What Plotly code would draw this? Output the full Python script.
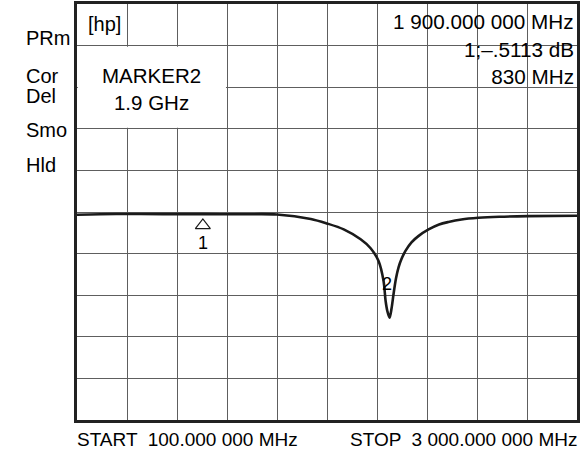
import plotly.graph_objects as go

# Trace data (frequency in MHz, magnitude in dB, 10 dB/div, ref 0 dB)
freq_mhz = [100, 328, 600, 830, 1050, 1259, 1456, 1549, 1647, 1745, 1803, 1849, 1878,
            1890, 1900, 1913, 1925, 1936, 1950, 1965, 1982, 2006, 2040, 2080, 2139,
            2200, 2254, 2330, 2428, 2550, 2717, 3000]
mag_db = [-0.67, -0.48, -0.50, -0.51, -0.55, -0.60, -1.67, -2.74, -4.18, -6.56, -8.71,
          -11.8, -16.6, -21.4, -23.8, -25.4, -23.0, -19.7, -16.0, -13.3, -11.3, -9.3,
          -7.3, -5.8, -4.2, -3.0, -2.4, -1.8, -1.4, -1.15, -1.0, -0.90]

start_mhz = 100
stop_mhz = 3000
ref_db = 0
db_per_div = 10

marker1_freq = 830
marker1_val = -0.5113
marker2_freq = 1900
marker2_label_db = -17.4

left_labels = ["PRm", "Cor", "Del", "Smo", "Hld"]
left_label_y = [0.919, 0.828, 0.778, 0.697, 0.613]

FONT = "Liberation Sans, Arial, Helvetica, sans-serif"
ink = "#1a1a1a"

fig = go.Figure()

fig.add_trace(go.Scatter(
    x=freq_mhz, y=mag_db, mode="lines",
    line=dict(color=ink, width=2.6, shape="spline", smoothing=0.9),
    hoverinfo="skip", showlegend=False))

# marker 1 triangle (below trace)
fig.add_trace(go.Scatter(
    x=[marker1_freq], y=[marker1_val - 2.7], mode="markers",
    marker=dict(symbol="triangle-up-open", size=13, color=ink, line=dict(width=1.2)),
    hoverinfo="skip", showlegend=False))

# reference-level arrow at left edge
fig.add_trace(go.Scatter(
    x=[start_mhz - 84], y=[ref_db], mode="markers", cliponaxis=False,
    marker=dict(symbol="triangle-right-open", size=15, color=ink, line=dict(width=1.2)),
    hoverinfo="skip", showlegend=False))

span = stop_mhz - start_mhz
fig.update_xaxes(range=[start_mhz, stop_mhz], tick0=start_mhz, dtick=span / 10,
                 showgrid=True, gridcolor="#5e5e5e", gridwidth=1.4,
                 showticklabels=False, ticks="", zeroline=False,
                 showline=True, mirror=True, linecolor="#222", linewidth=2.6)
fig.update_yaxes(range=[ref_db - 5 * db_per_div, ref_db + 5 * db_per_div],
                 tick0=ref_db, dtick=db_per_div,
                 showgrid=True, gridcolor="#5e5e5e", gridwidth=1.4,
                 showticklabels=False, ticks="", zeroline=False,
                 showline=True, mirror=True, linecolor="#222", linewidth=2.6)

# white box behind MARKER2 text (covers gridlines)
fig.add_shape(type="rect", xref="x", yref="y", layer="between",
              x0=start_mhz + 5, x1=start_mhz + 3 * span / 10 - 6,
              y0=ref_db + 2 * db_per_div + 0.25, y1=ref_db + 4 * db_per_div - 0.25,
              fillcolor="white", line=dict(width=0))

ann = []
def txt(s, x, y, size=20, xa="left", ya="middle", align="left"):
    ann.append(dict(text=s, x=x, y=y, xref="paper", yref="paper", showarrow=False,
                    xanchor=xa, yanchor=ya, align=align, borderpad=0,
                    font=dict(family=FONT, size=size, color="black")))

for s, y in zip(left_labels, left_label_y):
    txt(s, -0.1047, y)
txt("[hp]", 0.019, 0.952)
txt("MARKER2<br>1.9 GHz", 0.1496, 0.795, size=20.5, xa="center", align="center")
txt("1 900.000 000 MHz", 0.996, 0.959, size=20.7, xa="right", align="right")
txt("1;\u2013.5113 dB<br>830 MHz", 0.996, 0.859, size=20.7, xa="right", align="right")
txt("START  100.000 000 MHz", -0.002, -0.048, size=19)
txt("STOP  3 000.000 000 MHz", 1.001, -0.048, size=19, xa="right", align="right")

# marker labels in data coordinates
ann.append(dict(text="1", x=marker1_freq, y=marker1_val, xref="x", yref="y",
                showarrow=False, yshift=-29, font=dict(family=FONT, size=18, color="black")))
ann.append(dict(text="2", x=marker2_freq, y=marker2_label_db, xref="x", yref="y",
                showarrow=False, font=dict(family=FONT, size=18, color="black")))

fig.update_layout(width=581, height=451, margin=dict(l=77, r=2, t=1, b=31),
                  paper_bgcolor="white", plot_bgcolor="white", annotations=ann,
                  font=dict(family=FONT))

fig.write_html("out.html")
